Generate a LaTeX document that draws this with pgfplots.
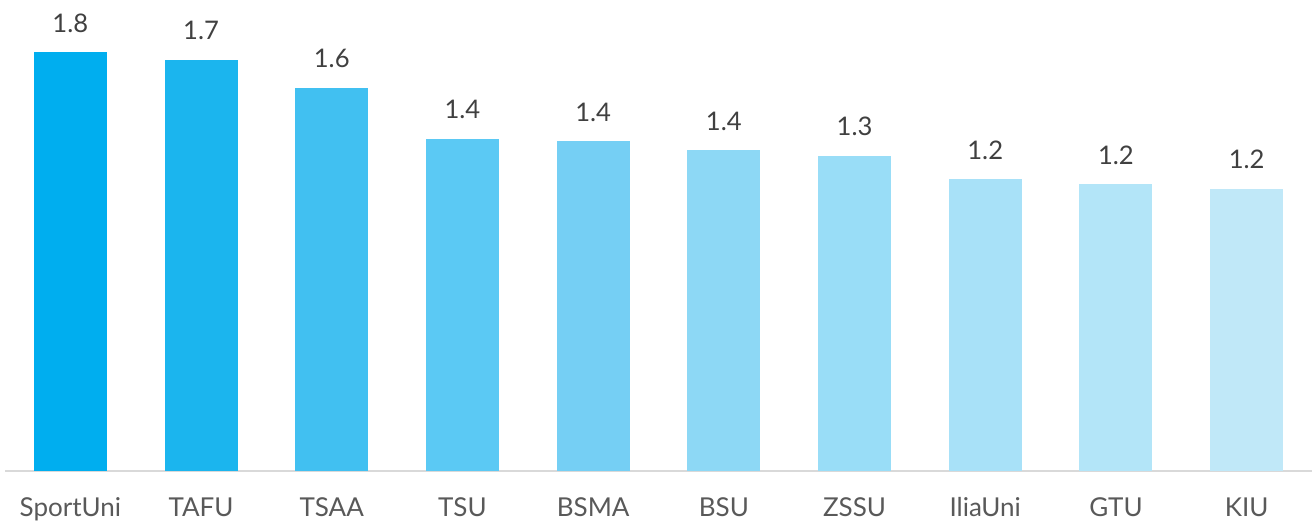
\documentclass[border=0pt]{standalone}
\usepackage{pgfplots}
\pgfplotsset{compat=1.18}
\usepackage{fontspec}
\setmainfont{Lato}
\definecolor{c1}{HTML}{00AEEF}
\definecolor{c2}{HTML}{1BB5EE}
\definecolor{c3}{HTML}{41C0F1}
\definecolor{c4}{HTML}{5BC9F4}
\definecolor{c5}{HTML}{75CFF4}
\definecolor{c6}{HTML}{8DD8F5}
\definecolor{c7}{HTML}{99DDF7}
\definecolor{c8}{HTML}{A8E1F8}
\definecolor{c9}{HTML}{B3E5F8}
\definecolor{c10}{HTML}{C0E8F8}
\definecolor{valtxt}{HTML}{404040}
\definecolor{labtxt}{HTML}{595959}
\definecolor{axline}{HTML}{D9D9D9}
\begin{document}
\begin{tikzpicture}
\begin{axis}[
  scale only axis,
  width=653.5pt, height=235.5pt,
  xmin=-0.5, xmax=9.5, ymin=0, ymax=1.9958,
  ybar, bar width=36.5pt,
  hide y axis,
  axis x line*=bottom,
  x axis line style={draw=axline, line width=1pt, -},
  xtick={0,...,9},
  xticklabels={SportUni,TAFU,TSAA,TSU,BSMA,BSU,ZSSU,IliaUni,GTU,KIU},
  major tick length=0pt,
  xticklabel style={anchor=base, yshift=-23pt, font=\fontsize{13}{15}\selectfont, text=labtxt},
  /pgf/number format/assume math mode=true,
  /pgf/number format/.cd, fixed, precision=1, zerofill,
  /pgfplots/.cd,
  nodes near coords,
  nodes near coords style={anchor=base, yshift=10pt, font=\fontsize{12.8}{15}\selectfont, text=valtxt},
  every axis plot/.append style={draw=none, bar shift=0pt},
  clip=false,
]
\coordinate (ll) at (rel axis cs:0,0);
\coordinate (ur) at (rel axis cs:1,1);
\addplot[fill=c1] coordinates {(0,1.775)};
\addplot[fill=c2] coordinates {(1,1.742)};
\addplot[fill=c3] coordinates {(2,1.623)};
\addplot[fill=c4] coordinates {(3,1.407)};
\addplot[fill=c5] coordinates {(4,1.398)};
\addplot[fill=c6] coordinates {(5,1.360)};
\addplot[fill=c7] coordinates {(6,1.335)};
\addplot[fill=c8] coordinates {(7,1.237)};
\addplot[fill=c9] coordinates {(8,1.216)};
\addplot[fill=c10] coordinates {(9,1.195)};
\end{axis}
\pgfresetboundingbox
\useasboundingbox ([xshift=-2.5pt,yshift=-26pt]ll) rectangle ([xshift=0.5pt]ur);
\end{tikzpicture}
\end{document}
